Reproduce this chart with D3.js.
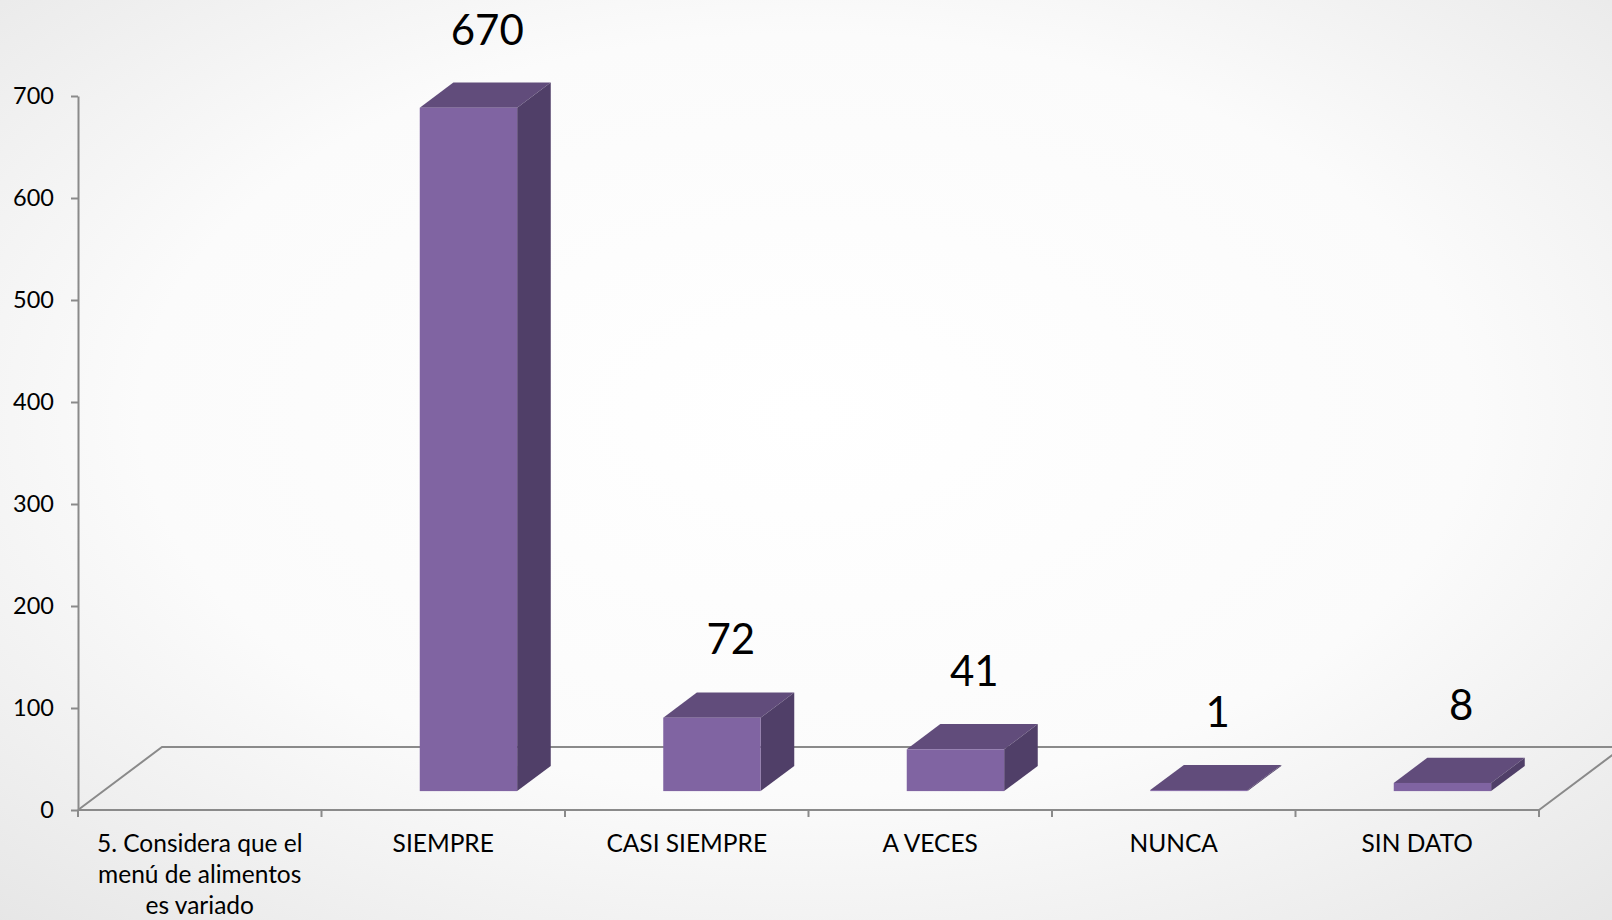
<!DOCTYPE html>
<html>
<head>
<meta charset="utf-8">
<script src="https://cdn.jsdelivr.net/npm/d3@7"></script>
<style>
  html, body { margin: 0; padding: 0; }
  body { width: 1612px; height: 920px; overflow: hidden; }
</style>
</head>
<body>
<div id="chart-area"></div>
<script>

// data
var categories = ["5. Considera que el menú de alimentos es variado", "SIEMPRE", "CASI SIEMPRE", "A VECES", "NUNCA", "SIN DATO"];
var values = [null, 670, 72, 41, 1, 8];
var yTicks = [0, 100, 200, 300, 400, 500, 600, 700];

var width = 1612, height = 920;
var fontFamily = "Lato, 'Open Sans', sans-serif";

// depth of the floor (3d offset)
var depth = { dx: 84, dy: -63 };

var svg = d3.select("#chart-area")
    .append("svg")
        .attr("width", width)
        .attr("height", height);

// background
var defs = svg.append("defs");
var grad = defs.append("radialGradient")
    .attr("id", "bg")
    .attr("cx", "50%").attr("cy", "45%").attr("r", "75%");
grad.append("stop").attr("offset", "0%").attr("stop-color", "#ffffff");
grad.append("stop").attr("offset", "55%").attr("stop-color", "#fbfbfb");
grad.append("stop").attr("offset", "100%").attr("stop-color", "#e6e6e6");

svg.append("rect")
    .attr("width", width)
    .attr("height", height)
    .attr("fill", "url(#bg)");

// X Scale
var x = d3.scaleBand()
    .domain(categories)
    .range([78, 1539])
    .paddingInner(0)
    .paddingOuter(0);

// Y Scale
var y = d3.scaleLinear()
    .domain([0, 700])
    .range([810, 96]);

var g = svg.append("g");

// floor
var x0 = x.range()[0], x1 = x.range()[1], y0 = y(0);
g.append("path")
    .attr("d", "M" + x0 + "," + y0 +
        "L" + (x0 + depth.dx) + "," + (y0 + depth.dy) +
        "L" + (x1 + depth.dx) + "," + (y0 + depth.dy) +
        "M" + x1 + "," + y0 +
        "L" + (x1 + depth.dx) + "," + (y0 + depth.dy))
    .attr("fill", "none")
    .attr("stroke", "#8a8a8a")
    .attr("stroke-width", 2);

// Y Axis
var yAxisCall = d3.axisLeft(y)
    .tickValues(yTicks)
    .tickSize(7)
    .tickSizeOuter(0)
    .tickPadding(17);

var yAxisGroup = g.append("g")
    .attr("transform", "translate(" + x0 + ",0)")
    .call(yAxisCall);

yAxisGroup.select(".domain")
    .attr("stroke", "#8a8a8a")
    .attr("stroke-width", 2);
yAxisGroup.selectAll(".tick line")
    .attr("stroke", "#8a8a8a")
    .attr("stroke-width", 2);
yAxisGroup.selectAll(".tick text")
    .attr("font-family", fontFamily)
    .attr("font-size", "23.5px")
    .attr("fill", "#000");

// X Axis (front edge of the floor)
g.append("line")
    .attr("x1", x0).attr("x2", x1)
    .attr("y1", y0).attr("y2", y0)
    .attr("stroke", "#8a8a8a")
    .attr("stroke-width", 2);

var tickPos = categories.map(function(c){ return x(c); }).concat([x1]);
g.selectAll(".xtick")
    .data(tickPos)
    .enter()
    .append("line")
        .attr("class", "xtick")
        .attr("x1", function(d){ return d; })
        .attr("x2", function(d){ return d; })
        .attr("y1", y0)
        .attr("y2", y0 + 7)
        .attr("stroke", "#8a8a8a")
        .attr("stroke-width", 2);

// category labels (wrapped)
var labels = g.selectAll(".xlabel")
    .data(categories)
    .enter()
    .append("text")
        .attr("class", "xlabel")
        .attr("x", function(d){ return x(d) + x.bandwidth() / 2; })
        .attr("y", y0 + 42)
        .attr("text-anchor", "middle")
        .attr("font-family", fontFamily)
        .attr("font-size", "24.5px")
        .attr("fill", "#000")
        .text(function(d){ return d; });

labels.each(function(d) {
    var text = d3.select(this);
    var words = d.split(/\s+/);
    var cx = +text.attr("x");
    var maxW = x.bandwidth() * 0.92;
    text.text(null);
    var line = [];
    var tspan = text.append("tspan").attr("x", cx).attr("dy", 0);
    words.forEach(function(w) {
        line.push(w);
        tspan.text(line.join(" "));
        if (tspan.node().getComputedTextLength() > maxW && line.length > 1) {
            line.pop();
            tspan.text(line.join(" "));
            line = [w];
            tspan = text.append("tspan").attr("x", cx).attr("dy", "31px").text(w);
        }
    });
});

// bars
var barW = x.bandwidth() * 0.4;
var front = { dx: depth.dx * 0.3, dy: depth.dy * 0.3 };
var side = { dx: depth.dx * 0.4, dy: depth.dy * 0.4 };

var data = categories.map(function(c, i){ return { cat: c, value: values[i] }; })
    .filter(function(d){ return d.value !== null; });

var bars = g.selectAll(".bar")
    .data(data)
    .enter()
    .append("g")
        .attr("class", "bar");

function geom(d) {
    var l = x(d.cat) + x.bandwidth() / 2 - barW / 2 + front.dx;
    var r = l + barW;
    var b = y(0) + front.dy;
    var t = y(d.value) + front.dy;
    return { l: l, r: r, b: b, t: t };
}

// top face
bars.append("path")
    .attr("fill", "#614c7b")
    .attr("d", function(d){
        var p = geom(d);
        return "M" + p.l + "," + p.t + "L" + p.r + "," + p.t +
            "L" + (p.r + side.dx) + "," + (p.t + side.dy) +
            "L" + (p.l + side.dx) + "," + (p.t + side.dy) + "Z";
    });

// side face
bars.append("path")
    .attr("fill", "#503f68")
    .attr("d", function(d){
        var p = geom(d);
        return "M" + p.r + "," + p.t + "L" + (p.r + side.dx) + "," + (p.t + side.dy) +
            "L" + (p.r + side.dx) + "," + (p.b + side.dy) +
            "L" + p.r + "," + p.b + "Z";
    });

// front face
bars.append("rect")
    .attr("fill", "#8064a2")
    .attr("x", function(d){ return geom(d).l; })
    .attr("y", function(d){ return geom(d).t; })
    .attr("width", barW)
    .attr("height", function(d){ var p = geom(d); return p.b - p.t; });

// value labels
g.selectAll(".vlabel")
    .data(data)
    .enter()
    .append("text")
        .attr("class", "vlabel")
        .attr("x", function(d){ var p = geom(d); return (p.l + p.r) / 2 + side.dx / 2 + 2; })
        .attr("y", function(d){ var p = geom(d); return p.t + side.dy - 38; })
        .attr("text-anchor", "middle")
        .attr("font-family", fontFamily)
        .attr("font-size", "42px")
        .attr("fill", "#000")
        .text(function(d){ return d.value; });

</script>
</body>
</html>
